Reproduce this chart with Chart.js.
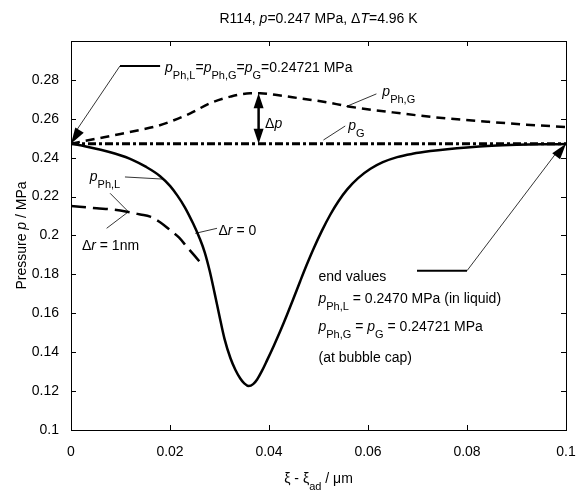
<!DOCTYPE html>
<html>
<head>
<meta charset="utf-8">
<script src="https://cdn.jsdelivr.net/npm/chart.js@4"></script>
<style>
html, body { margin: 0; padding: 0; background: #fff; }
</style>
</head>
<body>
<canvas id="chart" width="586" height="490"></canvas>
<script>
// pressure in the liquid phase, delta r = 0 (solid)
const xPhL = [0, 0.003, 0.006, 0.009, 0.0125, 0.015, 0.018, 0.020, 0.0215, 0.023, 0.0247, 0.026, 0.027, 0.028, 0.029,
    0.030, 0.031, 0.0322, 0.0332, 0.0342, 0.035, 0.0359, 0.0368, 0.0376, 0.0386, 0.0396, 0.041, 0.0423, 0.0436, 0.045,
    0.0463, 0.0476, 0.049, 0.0507, 0.0524, 0.054, 0.0558, 0.058, 0.0605, 0.063, 0.0659, 0.069, 0.0726, 0.076, 0.080,
    0.085, 0.090, 0.095, 0.100];
const pPhL = [0.2472, 0.2458, 0.2441, 0.2420, 0.2388, 0.2355, 0.2305, 0.2255, 0.2205, 0.2145, 0.2060, 0.1985, 0.1915, 0.1820, 0.1705,
    0.1585, 0.1470, 0.1370, 0.1310, 0.1265, 0.1240, 0.1226, 0.1236, 0.1260, 0.1305, 0.1358, 0.1435, 0.1510, 0.1590, 0.1680,
    0.1765, 0.1848, 0.1932, 0.2025, 0.2108, 0.2175, 0.2237, 0.2295, 0.2343, 0.2377, 0.2403, 0.2420, 0.2434, 0.2444, 0.2453,
    0.2461, 0.2466, 0.2469, 0.2470];

// pressure in the gas phase (dashed)
const xPhG = [0, 0.005, 0.010, 0.014, 0.017, 0.020, 0.0241, 0.0281, 0.0322, 0.0362, 0.0382, 0.0416, 0.0463, 0.051, 0.0564,
    0.065, 0.075, 0.0841, 0.092, 0.100];
const pPhG = [0.2472, 0.2497, 0.2522, 0.2543, 0.2560, 0.2585, 0.2628, 0.2680, 0.2714, 0.2731, 0.2731, 0.2722, 0.2705, 0.2688, 0.2662,
    0.2633, 0.2604, 0.2585, 0.2570, 0.2558];

// vapour pressure (dash-dot)
const xG = [0, 0.1];
const pG = [0.24721, 0.24721];

// liquid pressure with delta r = 1 nm (long dashes)
const xR1 = [0, 0.0052, 0.0085, 0.0113, 0.014, 0.016, 0.018, 0.020, 0.0218, 0.0234, 0.025, 0.0268];
const pR1 = [0.2152, 0.2140, 0.2133, 0.2122, 0.2108, 0.2097, 0.2068, 0.2028, 0.1990, 0.1942, 0.1895, 0.1840];

const xTicks = [0, 0.02, 0.04, 0.06, 0.08, 0.1];
const yTicks = [0.1, 0.12, 0.14, 0.16, 0.18, 0.2, 0.22, 0.24, 0.26, 0.28, 0.3];

const FONT = "'Liberation Sans', Arial, sans-serif";

function pts(xs, ys) {
    return xs.map((x, i) => ({ x: x, y: ys[i] }));
}

// draw text made of parts: [text, 'i' italic | 's' subscript | '' normal]
function richText(ctx, x, y, parts, align) {
    const fontFor = st => st === 's' ? '11px ' + FONT : (st === 'i' ? 'italic 14px ' + FONT : '14px ' + FONT);
    let w = 0;
    parts.forEach(p => { ctx.font = fontFor(p[1]); w += ctx.measureText(p[0]).width; });
    let cx = align === 'center' ? x - w / 2 : x;
    ctx.textAlign = 'left';
    ctx.textBaseline = 'alphabetic';
    parts.forEach(p => {
        ctx.font = fontFor(p[1]);
        ctx.fillText(p[0], cx, p[1] === 's' ? y + 7 : y);
        cx += ctx.measureText(p[0]).width;
    });
}

function arrowHead(ctx, tx, ty, fx, fy, len, wid) {
    const a = Math.atan2(ty - fy, tx - fx);
    const bx = tx - len * Math.cos(a), by = ty - len * Math.sin(a);
    const nx = -Math.sin(a) * wid / 2, ny = Math.cos(a) * wid / 2;
    ctx.beginPath();
    ctx.moveTo(tx, ty);
    ctx.lineTo(bx + nx, by + ny);
    ctx.lineTo(bx - nx, by - ny);
    ctx.closePath();
    ctx.fill();
}

const annotations = {
    id: 'annotations',
    afterDraw(chart) {
        const ctx = chart.ctx;
        const xs = chart.scales.x, ys = chart.scales.y;
        const X = v => xs.getPixelForValue(v);
        const Y = v => ys.getPixelForValue(v);
        const a = chart.chartArea;
        ctx.save();
        ctx.fillStyle = '#000';
        ctx.strokeStyle = '#000';

        // box and inward ticks
        ctx.lineWidth = 1;
        ctx.strokeRect(a.left + 0.5, a.top + 0.5, a.right - a.left, a.bottom - a.top);
        ctx.beginPath();
        xTicks.forEach(t => {
            const px = Math.round(X(t)) + 0.5;
            ctx.moveTo(px, a.bottom); ctx.lineTo(px, a.bottom - 5);
            ctx.moveTo(px, a.top); ctx.lineTo(px, a.top + 5);
        });
        yTicks.forEach(t => {
            const py = Math.round(Y(t)) + 0.5;
            ctx.moveTo(a.left, py); ctx.lineTo(a.left + 5, py);
            ctx.moveTo(a.right, py); ctx.lineTo(a.right - 5, py);
        });
        ctx.stroke();

        function line(x1, y1, x2, y2, w) {
            ctx.lineWidth = w;
            ctx.beginPath();
            ctx.moveTo(X(x1), Y(y1));
            ctx.lineTo(X(x2), Y(y2));
            ctx.stroke();
        }

        // top left label with arrow to start values
        line(0.0099, 0.2872, 0.0180, 0.2872, 2);
        line(0.0099, 0.2872, 0.0012, 0.2544, 0.8);
        arrowHead(ctx, X(0), Y(0.24721), X(0.0099), Y(0.2872), 16, 10);
        richText(ctx, X(0.0190), Y(0.2843), [['p', 'i'], ['Ph,L', 's'], ['=', ''], ['p', 'i'], ['Ph,G', 's'], ['=', ''], ['p', 'i'], ['G', 's'], ['=0.24721 MPa', '']]);

        // delta p double arrow
        line(0.0379, 0.2700, 0.0379, 0.2503, 2.5);
        arrowHead(ctx, X(0.0379), Y(0.2731), X(0.0379), Y(0.26), 15, 10);
        arrowHead(ctx, X(0.0379), Y(0.24721), X(0.0379), Y(0.26), 15, 10);
        richText(ctx, X(0.0392), Y(0.2553), [['\u0394', ''], ['p', 'i']]);

        // p_Ph,G label
        line(0.0556, 0.2663, 0.0617, 0.2728, 0.8);
        richText(ctx, X(0.0629), Y(0.2717), [['p', 'i'], ['Ph,G', 's']]);

        // p_G label
        line(0.0510, 0.2491, 0.0554, 0.2563, 0.8);
        richText(ctx, X(0.0560), Y(0.2542), [['p', 'i'], ['G', 's']]);

        // p_Ph,L label
        line(0.0109, 0.2301, 0.0186, 0.2290, 0.8);
        richText(ctx, X(0.0038), Y(0.2280), [['p', 'i'], ['Ph,L', 's']]);

        // delta r = 1 nm fork
        line(0.0116, 0.2122, 0.0079, 0.2217, 0.8);
        line(0.0116, 0.2122, 0.0072, 0.2037, 0.8);
        richText(ctx, X(0.0022), Y(0.1925), [['\u0394', ''], ['r', 'i'], [' = 1nm', '']]);

        // delta r = 0
        line(0.0251, 0.2011, 0.0295, 0.2037, 0.8);
        richText(ctx, X(0.0298), Y(0.2003), [['\u0394', ''], ['r', 'i'], [' = 0', '']]);

        // end values
        line(0.0699, 0.1819, 0.0800, 0.1819, 2);
        line(0.0800, 0.1819, 0.0985, 0.2440, 0.8);
        arrowHead(ctx, X(0.1), Y(0.24721), X(0.0800), Y(0.1819), 16, 10);
        richText(ctx, X(0.0500), Y(0.1766), [['end values', '']]);
        richText(ctx, X(0.0500), Y(0.1653), [['p', 'i'], ['Ph,L', 's'], [' = 0.2470 MPa (in liquid)', '']]);
        richText(ctx, X(0.0500), Y(0.1509), [['p', 'i'], ['Ph,G', 's'], [' = ', ''], ['p', 'i'], ['G', 's'], [' = 0.24721 MPa', '']]);
        richText(ctx, X(0.0500), Y(0.1350), [['(at bubble cap)', '']]);

        // title and axis titles
        const cx = (a.left + a.right) / 2;
        richText(ctx, cx, 23, [['R114, ', ''], ['p', 'i'], ['=0.247 MPa, \u0394', ''], ['T', 'i'], ['=4.96 K', '']], 'center');
        richText(ctx, cx, 483, [['\u03BE - \u03BE', ''], ['ad', 's'], [' / \u03BCm', '']], 'center');
        ctx.save();
        ctx.translate(26, (a.top + a.bottom) / 2);
        ctx.rotate(-Math.PI / 2);
        richText(ctx, 0, 0, [['Pressure ', ''], ['p', 'i'], [' / MPa', '']], 'center');
        ctx.restore();

        ctx.restore();
    }
};

const ctx = document.getElementById('chart').getContext('2d');
new Chart(ctx, {
    type: 'line',
    data: {
        datasets: [{
            data: pts(xPhL, pPhL),
            borderColor: '#000',
            borderWidth: 2.5,
            cubicInterpolationMode: 'monotone'
        }, {
            data: pts(xPhG, pPhG),
            borderColor: '#000',
            borderWidth: 2.5,
            borderDash: [9, 6],
            cubicInterpolationMode: 'monotone'
        }, {
            data: pts(xG, pG),
            borderColor: '#000',
            borderWidth: 3,
            borderDash: [8, 3, 3, 3]
        }, {
            data: pts(xR1, pR1),
            borderColor: '#000',
            borderWidth: 2.5,
            borderDash: [15, 7],
            cubicInterpolationMode: 'monotone'
        }]
    },
    options: {
        responsive: false,
        animation: false,
        events: [],
        elements: { point: { radius: 0 } },
        layout: { padding: { left: 0, right: 20, top: 41, bottom: 0 } },
        plugins: {
            legend: { display: false },
            tooltip: { enabled: false }
        },
        scales: {
            x: {
                type: 'linear',
                min: 0,
                max: 0.1,
                afterBuildTicks: s => { s.ticks = xTicks.map(v => ({ value: v })); },
                afterFit: s => { s.height = 60; },
                ticks: {
                    padding: 6,
                    maxRotation: 0,
                    color: '#000',
                    font: { family: FONT, size: 14 },
                    callback: v => String(+v.toFixed(2))
                },
                grid: { display: false },
                border: { display: false }
            },
            y: {
                type: 'linear',
                min: 0.1,
                max: 0.3,
                afterBuildTicks: s => { s.ticks = yTicks.map(v => ({ value: v })); },
                afterFit: s => { s.width = 71; },
                ticks: {
                    padding: 4,
                    color: '#000',
                    font: { family: FONT, size: 14 },
                    callback: v => v > 0.295 ? '' : String(+v.toFixed(2))
                },
                grid: { display: false },
                border: { display: false }
            }
        }
    },
    plugins: [annotations]
});
</script>
</body>
</html>
